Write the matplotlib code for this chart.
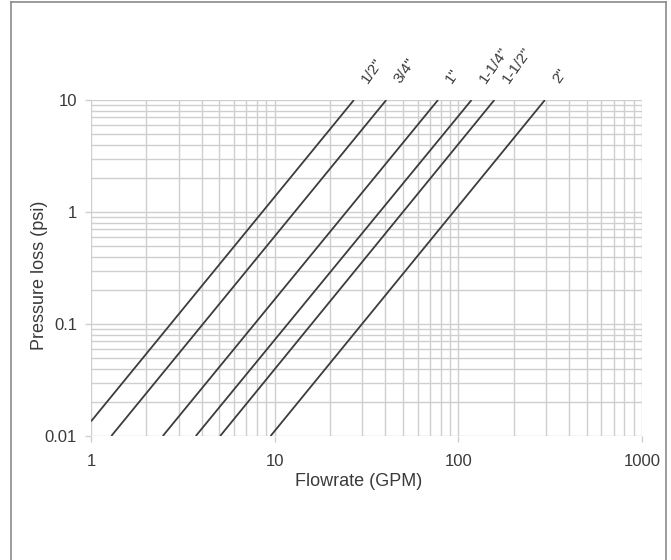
import matplotlib
matplotlib.use("Agg")
import matplotlib.pyplot as plt
from matplotlib.lines import Line2D
from matplotlib.ticker import LogLocator, FixedLocator, FixedFormatter, NullFormatter

# Data
sizes = ['1/2"', '3/4"', '1"', '1-1/4"', '1-1/2"', '2"']
flow_low = [1.0, 1.29, 2.46, 3.72, 5.05, 9.5]
psi_low = [0.0135, 0.01, 0.01, 0.01, 0.01, 0.01]
flow_high = [27.0, 40.5, 77.5, 118.0, 157.0, 296.0]
psi_high = [10, 10, 10, 10, 10, 10]

x_ticks = [1, 10, 100, 1000]
x_tick_labels = ['1', '10', '100', '1000']
y_ticks = [0.01, 0.1, 1, 10]
y_tick_labels = ['0.01', '0.1', '1', '10']

plt.rcParams['font.family'] = ['Liberation Sans Narrow', 'Liberation Sans', 'DejaVu Sans']

fig = plt.figure(figsize=(6.71, 5.60), dpi=100)
ax = fig.add_axes([91/671, 1 - 436/560, (642-91)/671, (436-100)/560])

ax.set_xscale('log')
ax.set_yscale('log')
ax.set_xlim(1, 1000)
ax.set_ylim(0.01, 10)

grid_c = '#cfcfcf'
txt_c = '#3a3a3a'
ax.xaxis.set_major_locator(FixedLocator(x_ticks))
ax.xaxis.set_major_formatter(FixedFormatter(x_tick_labels))
ax.yaxis.set_major_locator(FixedLocator(y_ticks))
ax.yaxis.set_major_formatter(FixedFormatter(y_tick_labels))
ax.xaxis.set_minor_locator(LogLocator(base=10, subs=range(2, 10)))
ax.yaxis.set_minor_locator(LogLocator(base=10, subs=range(2, 10)))
ax.xaxis.set_minor_formatter(NullFormatter())
ax.yaxis.set_minor_formatter(NullFormatter())
ax.grid(True, which='both', color=grid_c, linewidth=1.0)
ax.tick_params(which='major', length=4, width=1.0, color=grid_c, labelsize=12,
               labelcolor=txt_c)
ax.tick_params(axis='x', which='major', pad=9)
ax.tick_params(axis='y', which='major', pad=6)
ax.tick_params(which='minor', length=0)
for s in ax.spines.values():
    s.set_visible(False)
ax.set_axisbelow(True)

for name, x0, y0, x1, y1 in zip(sizes, flow_low, psi_low, flow_high, psi_high):
    ax.plot([x0, x1], [y0, y1], color='#3c3c3c', linewidth=1.3, solid_capstyle='butt')
    ax.annotate(name, xy=(x1, y1), xytext=(12, 10), textcoords='offset points',
                rotation=55, rotation_mode='anchor', ha='left', va='bottom',
                fontsize=11, color=txt_c, annotation_clip=False)

ax.set_xlabel('Flowrate (GPM)', fontsize=13, color=txt_c)
ax.set_ylabel('Pressure loss (psi)', fontsize=13, color=txt_c)
ax.xaxis.set_label_coords((358.5 - 91) / 551, -(490 - 436) / 336)
ax.yaxis.set_label_coords(-(91 - 48) / 551, (436 - 275) / 336)
ax.xaxis.label.set_verticalalignment('bottom')

# outer frame
bc = '#8a8a8a'
fig.add_artist(Line2D([11/671, 11/671], [0, 1 - 2/560], transform=fig.transFigure, color=bc, lw=1.2))
fig.add_artist(Line2D([11/671, 666/671], [1 - 2/560, 1 - 2/560], transform=fig.transFigure, color=bc, lw=1.2))
fig.add_artist(Line2D([666/671, 666/671], [0, 1 - 2/560], transform=fig.transFigure, color=bc, lw=1.2))

fig.savefig('out.png', dpi=100, facecolor='white')
